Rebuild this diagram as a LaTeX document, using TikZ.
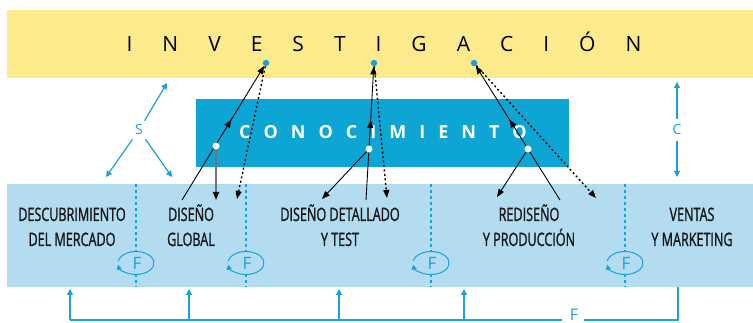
\documentclass[tikz,border=0pt]{standalone}
\usepackage{fontspec}
\setmainfont{Open Sans}
\newfontfamily\strettofont[FakeStretch=0.68,FakeBold=1.2]{Open Sans}
\usetikzlibrary{arrows.meta,decorations.markings,positioning}

\definecolor{giallo}{HTML}{FDEA8C}
\definecolor{azzurro}{HTML}{0DA5D4}
\definecolor{celeste}{HTML}{B3DCF0}
\definecolor{ciano}{HTML}{1BA0D7}

\tikzset{
  fase/.style={anchor=base, align=center, text=black!90,
    font=\strettofont\fontsize{18.5}{25}\selectfont},
  freccia/.style={black, line width=0.9pt, -{Triangle[length=8pt,width=6pt]}},
  punteggiata/.style={freccia, line width=1.4pt, dash pattern=on 2pt off 2.5pt},
  mezzo/.style={postaction={decorate}, decoration={markings,
    mark=at position #1 with {\arrow{Triangle[length=8pt,width=6pt]}}}},
  frecciaC/.style={ciano, line width=1.2pt, -{Triangle[length=6pt,width=6pt]}},
  ciclo/.style={ciano, line width=1pt, -{Triangle[length=5pt,width=5pt]}},
  separa/.style={ciano, line width=1.4pt, dash pattern=on 3.5pt off 2.5pt},
  lettera/.style={text=ciano, font=\fontsize{14}{14}\selectfont, inner sep=4pt},
  puntoblu/.style={circle, fill=ciano, inner sep=0pt, minimum size=6.5pt},
  puntobianco/.style={circle, fill=white, inner sep=0pt, minimum size=7pt},
}

\begin{document}
\begin{tikzpicture}[x=1pt,y=-1pt]
  \useasboundingbox (0,0) rectangle (753,323);
  % bande
  \fill[giallo] (7,10) rectangle (753,78);
  \fill[azzurro] (196,99) rectangle (569,167);
  \fill[celeste] (7,184) rectangle (753,287);
  \node[anchor=base, font=\fontsize{21}{21}\selectfont] (inv) at (384,52)
    {\spaceskip=30pt\relax I N V E S T I G A C I Ó N};
  \node[anchor=base, text=white, font=\bfseries\fontsize{18}{18}\selectfont] (con) at (383,139)
    {\spaceskip=13pt\relax C O N O C I M I E N T O};

  % separatori e cicli F
  \foreach \x in {136,246,431,625} {
    \draw[separa] (\x,184) -- (\x,287);
    \fill[celeste] (\x,263) ellipse [x radius=18, y radius=11.5];
    \draw[ciclo] (\x,263) ++(-170:18 and 11.5)
      arc [start angle=-170, end angle=172, x radius=18, y radius=11.5];
    \node[text=ciano, font=\fontsize{17}{17}\selectfont, inner sep=0pt] at (\x+1,263) {F};
  }

  % fasi
  \node[fase] (desc) at (72,246) {DESCUBRIMIENTO\\DEL MERCADO};
  \node[fase] (dglob) at (191,246) {DISEÑO\\GLOBAL};
  \node[fase] (ddet) at (340,246) {DISEÑO DETALLADO\\Y TEST};
  \node[fase] (redis) at (529,246) {REDISEÑO\\Y PRODUCCIÓN};
  \node[fase] (vent) at (692,246) {VENTAS\\Y MARKETING};

  % S e C
  \node[lettera] (S) at (139,130) {S};
  \draw[frecciaC] (S) -- (167,83);
  \draw[frecciaC] (S) -- (106,177);
  \draw[frecciaC] (S) -- (172,177);
  \node[lettera, inner sep=6pt] (C) at (677,130) {C};
  \draw[frecciaC] (C) -- (677,82);
  \draw[frecciaC] (C) -- (677,177);

  % punti
  \node[puntoblu] (b1) at (266,63) {};
  \node[puntoblu] (b2) at (374,63) {};
  \node[puntoblu] (b3) at (474,63) {};
  \coordinate (s1) at (182,200);
  \coordinate (s2) at (366,200);
  \coordinate (s3) at (560,200);

  % frecce
  \draw[freccia, mezzo=0.6] (s1) -- (b1);
  \draw[freccia, mezzo=0.6] (s2) -- (b2);
  \draw[freccia, mezzo=0.6] (s3) -- (b3);
  \draw[punteggiata] (b1) -- (237,199);
  \draw[punteggiata] (b2) -- (387,198);
  \draw[punteggiata] (b3) -- (596,198);
  \node[puntobianco] (w1) at (216,146) {};
  \node[puntobianco] (w2) at (369,149) {};
  \node[puntobianco] (w3) at (528,149) {};
  \draw[freccia, draw=black!55, line width=1.6pt, -{Triangle[length=8pt,width=6pt,color=black]}] (w1) -- (216,200);
  \draw[freccia] (w2) -- (322,199);
  \draw[freccia] (w3) -- (497,197);

  % ritorno F
  \node[text=ciano, font=\fontsize{16}{16}\selectfont, inner sep=0pt] (fb) at (574,314.5) {F};
  \draw[ciano, line width=1.2pt] ([xshift=6pt]fb.east |- 0,320) -| (678,287);
  \draw[ciano, line width=1.2pt] ([xshift=-8pt]fb.west |- 0,320) -- (70,320);
  \foreach \x in {70,189,339,464}
    \draw[frecciaC] (\x,320) -- (\x,289);
\end{tikzpicture}
\end{document}
